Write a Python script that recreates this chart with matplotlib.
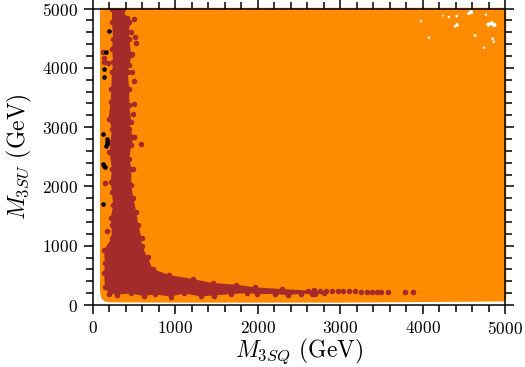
import matplotlib

matplotlib.use("Agg")
import matplotlib.pyplot as plt  # noqa: E402

plt.rcParams["font.family"] = ["cmr10", "DejaVu Sans"]
plt.rcParams["mathtext.fontset"] = "cm"
plt.rcParams["axes.formatter.use_mathtext"] = True

# allowed region outline
region_x = [85, 85, 90, 105, 140, 200, 1000, 3000, 5000, 5015, 5015, 5000, 85]
region_y = [5000, 250, 170, 105, 60, 45, 40, 40, 60, 100, 4950, 5012, 5012]

# dense brown band outline: down the left side, along the bottom, back along the top
band_x = [230, 230, 245, 230, 245, 230, 222, 214, 190, 230, 214, 200, 230, 214, 230, 245, 214, 225, 225,
          133, 145, 135, 145, 190, 295, 457, 619, 752, 942, 1104, 1306, 1468, 1670, 1873, 1994, 2209,
          2371, 2520, 2654, 2694, 2800, 2680, 2613, 2290, 1966, 1736, 1453, 1210, 927, 724, 664,
          590, 590, 550, 525, 490, 465, 465, 440, 465, 495, 440, 465, 440, 440, 420, 440, 465, 440, 440, 360]
band_y = [4994, 4770, 4490, 4320, 4097, 3928, 3648, 3424, 3143, 2974, 2749, 2581, 2301, 2076, 1908, 1683,
          1459, 1347, 1122, 926, 701, 533, 309, 190, 175, 195, 150, 180, 140, 195, 145, 160, 185, 200, 185,
          185, 165, 190, 190, 185, 210, 255, 242, 270, 298, 342, 371, 438, 505, 606, 803, 999, 1122,
          1347, 1571, 1796, 2020, 2301, 2469, 2694, 2834, 2974, 3087, 3367, 3648, 3928, 4040, 4209, 4490,
          4770, 4994]

# isolated brown points, with the beads of the thin tail
brown_x = [494, 413, 409, 457, 506, 518, 477, 473, 498, 498, 489, 501, 586, 481, 125, 133, 133, 186,
           146, 166, 2760, 2830, 2900, 2970, 3040, 3110, 3180, 3250, 3320, 3390, 3450, 3490, 3575, 3782, 3888]
brown_y = [4815, 4843, 4742, 4600, 4517, 4422, 4225, 3928, 3776, 3395, 3227, 2833, 2716, 2300, 4265,
           4163, 4096, 4080, 2060, 1250, 240, 238, 236, 234, 232, 230, 228, 226, 224, 222, 222, 220, 213, 213, 213]

# black points
black_x = [194, 161, 137, 133, 121, 166, 166, 174, 158, 118, 133, 142, 125]
black_y = [4620, 4260, 3973, 3850, 2890, 2806, 2750, 2710, 2677, 2374, 2345, 2330, 1695]

# small gaps in the scan near the top right
gap_x = [4587, 4560, 4800, 4840, 4870, 4421, 4395, 4320, 4414, 4769, 4636, 4850, 4865, 4078, 3977, 4745, 4248]
gap_y = [4938, 4915, 4731, 4750, 4720, 4726, 4700, 4855, 4872, 4896, 4545, 4490, 4440, 4506, 4786, 4338, 4880]
gap_s = [9, 5, 9, 9, 9, 6, 4, 3, 4, 3, 4, 4, 3, 3, 3, 3, 2]

xticks = [0, 1000, 2000, 3000, 4000, 5000]
yticks = [0, 1000, 2000, 3000, 4000, 5000]

fig = plt.figure(figsize=(5.25, 3.67), dpi=100)
ax = fig.add_axes([93 / 525, 1 - 305 / 367, 412 / 525, 296.5 / 367])

ax.fill(region_x, region_y, color="darkorange", lw=0, zorder=1, clip_on=False)
ax.scatter(gap_x, gap_y, s=gap_s, c="white", lw=0, zorder=2)
ax.fill(band_x, band_y, color="brown", lw=0, zorder=3)
ax.scatter(band_x, band_y, s=16, c="brown", lw=0, zorder=3)
ax.scatter(brown_x, brown_y, s=16, c="brown", lw=0, zorder=3)
ax.scatter(black_x, black_y, s=11, c="black", lw=0, zorder=4)

ax.set_xlim(0, 5000)
ax.set_ylim(0, 5000)
ax.set_xticks(xticks)
ax.set_yticks(yticks)
ax.set_xticks(range(0, 5001, 200), minor=True)
ax.set_yticks(range(0, 5001, 200), minor=True)
ax.tick_params(which="major", direction="out", length=6.7, width=1.1, top=True, right=True,
               labelsize=12.5, pad=4)
ax.tick_params(which="minor", direction="out", length=4.8, width=1.1, top=True, right=True)
for s in ax.spines.values():
    s.set_linewidth(1.1)
    s.set_zorder(10)

ax.set_xlabel(r"$M_{3SQ}$ (GeV)", fontsize=17, labelpad=0)
ax.set_ylabel(r"$M_{3SU}$ (GeV)", fontsize=17, labelpad=6)

fig.savefig("out.png", dpi=100)
